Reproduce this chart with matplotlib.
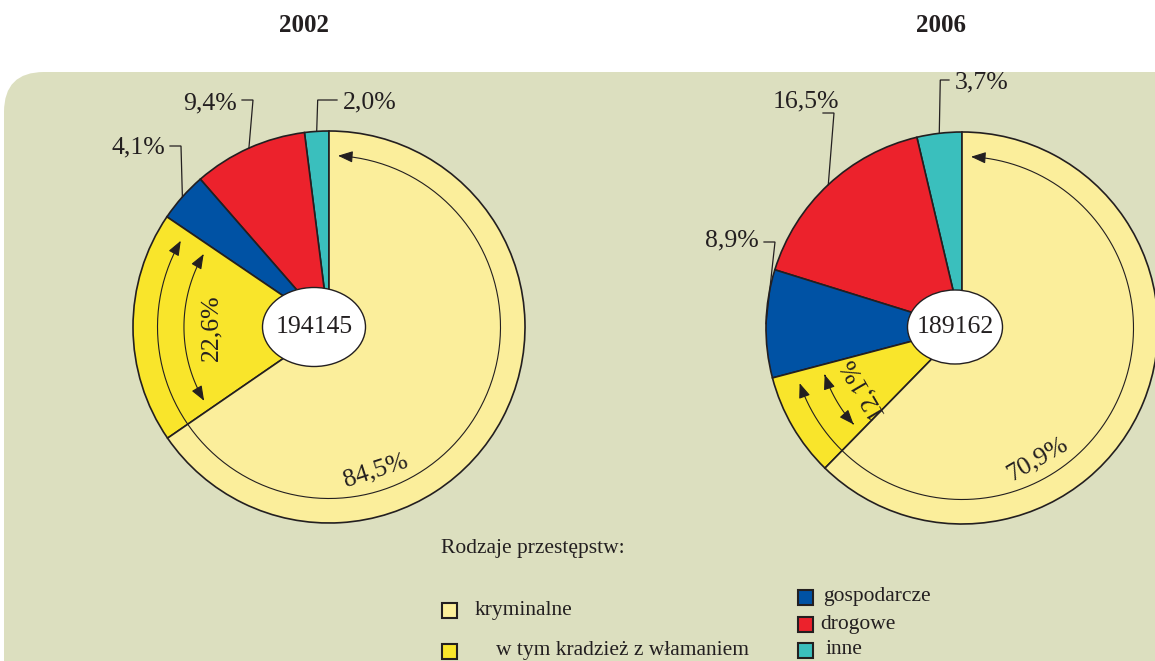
import numpy as np
import matplotlib
matplotlib.use("Agg")
import matplotlib.pyplot as plt
from matplotlib.patches import FancyBboxPatch, Ellipse, Rectangle, FancyArrowPatch
from matplotlib.path import Path

plt.rcParams['font.family'] = ['Liberation Serif', 'DejaVu Serif']

# data
years = ['2002', '2006']
totals = ['194145', '189162']
categories = ['inne', 'drogowe', 'gospodarcze', 'kryminalne']
shares_2002 = [2.0, 9.4, 4.1, 84.5]
shares_2006 = [3.7, 16.5, 8.9, 70.9]
burglary = [22.6, 12.1]          # "w tym kradzież z włamaniem", % of kryminalne
legend_left = ['kryminalne', 'w tym kradzież z włamaniem']
legend_right = ['gospodarcze', 'drogowe', 'inne']

col = {'inne': '#3ABFBD', 'drogowe': '#EC222C', 'gospodarcze': '#0052A4',
       'kryminalne': '#FBEE9B', 'wlam': '#F9E52B'}
ink = '#231F20'
bg = '#DCDFBF'

W, H = 1155, 661
fig = plt.figure(figsize=(W / 100, H / 100), dpi=100)
ax = fig.add_axes([0, 0, 1, 1])


def Y(py):
    return H - py


def pol(cx, cy, r, ang):
    a = np.radians(ang)
    return cx + r * np.cos(a), Y(cy) + r * np.sin(a)


def arc_arrow(cx, cy, r, a1, a2):
    t = np.linspace(a1, a2, 120)
    pts = np.column_stack([cx + r * np.cos(np.radians(t)), Y(cy) + r * np.sin(np.radians(t))])
    p = FancyArrowPatch(path=Path(pts), arrowstyle='<|-|>,head_length=9,head_width=3.5',
                        lw=0.8, color=ink, shrinkA=0, shrinkB=0, zorder=5)
    ax.add_patch(p)


ax.add_patch(FancyBboxPatch((4, -80), W + 100, Y(72) + 80,
                            boxstyle='round,pad=0,rounding_size=40',
                            fc=bg, ec='none', zorder=0))

# layout: pie centres, ellipses, label positions (pixels)
centres = [(329, 327), (962, 328)]
R = 196
ellipses = [(314, 327, 103, 79), (955, 327, 95, 74)]
title_x = [304, 941]
big_label_ang = [-72, -60]
# per small slice: text x, text y, ha, leader y
small_labels = [
    [(343, 102, 'left', 100), (237, 103, 'right', 100), (165, 147, 'right', 146)],
    [(955, 82, 'left', 80), (839, 101, 'right', 113), (759, 240, 'right', 242)],
]

for i, shares in enumerate([shares_2002, shares_2006]):
    cx, cy = centres[i]
    krym = shares[3]
    wl = krym * burglary[i] / 100
    vals = shares[:3] + [wl, krym - wl]
    colors = [col['inne'], col['drogowe'], col['gospodarcze'], col['wlam'], col['kryminalne']]
    ax.pie(vals, colors=colors, startangle=90, counterclock=True, center=(cx, Y(cy)),
           radius=R, wedgeprops=dict(edgecolor=ink, linewidth=1.2), frame=True)

    ax.text(title_x[i], Y(25), years[i], ha='center', va='center',
            fontsize=18, fontweight='bold', color=ink)

    # angles
    bounds = 90 + np.cumsum([0] + vals) * 3.6
    k_start = bounds[3]
    # outer arc over kryminalne
    arc_arrow(cx, cy, 0.875 * R, k_start + 4, 450 - 3)
    a = big_label_ang[i]
    x, y = pol(cx, cy, 0.77 * R, a)
    ax.text(x, y, f'{krym:.1f}%'.replace('.', ','), rotation=a + 90, ha='center',
            va='center', fontsize=18.5, color=ink, rotation_mode='anchor', zorder=6)
    # inner arc over burglary
    arc_arrow(cx, cy, 0.74 * R, bounds[3] + 4, bounds[4] - 4)
    mid = (bounds[3] + bounds[4]) / 2
    x, y = pol(cx, cy, 0.6 * R, mid)
    ax.text(x, y, f'{burglary[i]:.1f}%'.replace('.', ','), rotation=mid - 90,
            ha='center', va='center', fontsize=18.5, color=ink,
            rotation_mode='anchor', zorder=6)

    # small slice labels with leaders
    for j in range(3):
        tx, ty, ha, ly = small_labels[i][j]
        m = (bounds[j] + bounds[j + 1]) / 2
        ex, ey = pol(cx, cy, R, m)
        ax.text(tx, Y(ty), f'{shares[j]:.1f}%'.replace('.', ','), ha=ha, va='center',
                fontsize=18.5, color=ink, zorder=6)
        if ha == 'left':
            x0 = tx - 6
            x1 = ex + 1
        else:
            x0 = tx + 5 if ly < ty + 5 else tx - 16
            x1 = x0 + 11
        ax.plot([x0, x1, ex], [Y(ly), Y(ly), ey], color=ink, lw=0.9, zorder=6,
                solid_joinstyle='miter')

    ex_, ey_, ew, eh = ellipses[i]
    ax.add_patch(Ellipse((ex_, Y(ey_)), ew, eh, fc='white', ec=ink, lw=1.0, zorder=7))
    ax.text(ex_, Y(ey_), totals[i], ha='center', va='center', fontsize=18.5,
            color=ink, zorder=8)

# legend
ax.text(441, Y(548), 'Rodzaje przestępstw:', ha='left', va='center', fontsize=15.5, color=ink)
sq = 15
for lab, c, (x, y, tx) in zip(legend_left, [col['kryminalne'], col['wlam']],
                              [(442, 610, 475), (442, 651, 496)]):
    ax.add_patch(Rectangle((x, Y(y) - sq / 2), sq, sq, fc=c, ec=ink, lw=1.5))
    ax.text(tx, Y(y), lab, ha='left', va='center', fontsize=15.5, color=ink)
for lab, (y, tx) in zip(legend_right, [(597, 823), (624, 820), (650, 825)]):
    ax.add_patch(Rectangle((798, Y(y) - sq / 2), sq, sq, fc=col[lab], ec=ink, lw=1.5))
    ax.text(tx, Y(y), lab, ha='left', va='center', fontsize=15.5, color=ink)

ax.set_xlim(0, W)
ax.set_ylim(0, H)
ax.set_aspect('auto')
ax.axis('off')
fig.savefig('out.png', dpi=100, facecolor='white')
